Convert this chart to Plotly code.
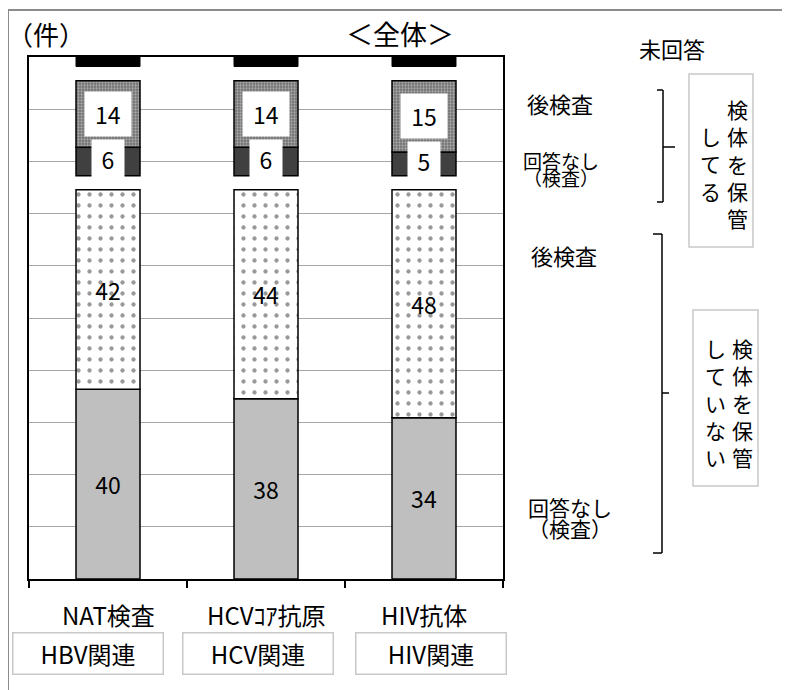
import plotly.graph_objects as go

# categories and group labels
categories = ["NAT検査", "HCVｺｱ抗原", "HIV抗体"]
groups = ["HBV関連", "HCV関連", "HIV関連"]

# 検体を保管していない
nostore_noanswer = [40, 38, 34]   # 回答なし（検査）
nostore_later = [42, 44, 48]      # 後検査
# 検体を保管している
store_noanswer = [6, 6, 5]        # 回答なし（検査）
store_later = [14, 14, 15]        # 後検査
unanswered = [2, 2, 2]            # 未回答

GAP = 3       # blank space left between the blocks of the stack
Y_MAX = 110
Y_STEP = 11

FONT = "Noto Sans CJK JP"
OFF = 8                          # page body margin
W, H = 790 - OFF, 690 - OFF
L, R, T, B = 29, 503, 57, 579    # plot area in screen pixels


def px(x):
    return (x - L) / (R - L)


def py(y):
    return (B - y) / (B - T)


# stack bases
base_nl = nostore_noanswer
base_sn = [a + b + GAP for a, b in zip(nostore_noanswer, nostore_later)]
base_sl = [a + b for a, b in zip(base_sn, store_noanswer)]
base_un = [a + b + GAP for a, b in zip(base_sl, store_later)]

outline = dict(color="black", width=1.5)
BAR_W = 0.405

fig = go.Figure()

fig.add_trace(go.Bar(
    x=categories, y=nostore_noanswer, base=[0, 0, 0], width=BAR_W,
    marker=dict(color="#bfbfbf", line=outline),
    text=nostore_noanswer, textposition="inside", insidetextanchor="middle",
    textangle=0, textfont=dict(size=23, color="black", family=FONT),
    name="回答なし（検査）"
))
fig.add_trace(go.Bar(
    x=categories, y=nostore_later, base=base_nl, width=BAR_W,
    marker=dict(color="white", line=outline,
                pattern=dict(shape=".", fgcolor="#333333", bgcolor="white",
                             size=11, solidity=0.12)),
    text=nostore_later, textposition="inside", insidetextanchor="middle",
    textangle=0, textfont=dict(size=23, color="black", family=FONT),
    name="後検査"
))
fig.add_trace(go.Bar(
    x=categories, y=store_noanswer, base=base_sn, width=BAR_W,
    marker=dict(color="#404040", line=outline),
    name="回答なし（検査）・保管"
))
fig.add_trace(go.Bar(
    x=categories, y=store_later, base=base_sl, width=BAR_W,
    marker=dict(color="#8c8c8c", line=outline,
                pattern=dict(shape=".", fgcolor="#e0e0e0", bgcolor="#707070",
                             size=3, solidity=0.45)),
    name="後検査・保管"
))
fig.add_trace(go.Bar(
    x=categories, y=unanswered, base=base_un, width=BAR_W,
    marker=dict(color="black", line=dict(color="black", width=1)),
    name="未回答"
))

annotations = []

# white-boxed labels for the upper block
for cat, b, v in zip(categories, base_sl, store_later):
    annotations.append(dict(
        x=cat, y=b + v / 2, xref="x", yref="y", text=str(v), showarrow=False,
        font=dict(size=23, color="black", family=FONT),
        bgcolor="white", width=44, height=42
    ))
for cat, b, v in zip(categories, base_sn, store_noanswer):
    annotations.append(dict(
        x=cat, y=b + v / 2, xref="x", yref="y", text=str(v), showarrow=False,
        font=dict(size=23, color="black", family=FONT),
        bgcolor="white", width=30, height=35, yshift=3
    ))

# category labels and group boxes
for cat in categories:
    annotations.append(dict(
        x=cat, y=py(614), xref="x", yref="paper", text=cat, showarrow=False,
        font=dict(size=24, color="black", family=FONT),
        xanchor="center", yanchor="middle"
    ))
for i, (grp, shift) in enumerate(zip(groups, [-20, -8, 7])):
    annotations.append(dict(
        x=categories[i], y=py(653), xref="x", yref="paper",
        text=grp, showarrow=False, xshift=shift,
        xanchor="center", yanchor="middle",
        font=dict(size=24, color="black", family=FONT),
        width=147, height=38, bordercolor="#c8c8c8", borderwidth=1.5,
        bgcolor="white"
    ))


def txt(text, x, y, size, xanchor="center"):
    annotations.append(dict(
        x=px(x), y=py(y), xref="paper", yref="paper", text=text,
        showarrow=False, xanchor=xanchor, yanchor="middle",
        font=dict(size=size, color="black", family=FONT)
    ))


# titles
txt("（件）", 46, 33, 26)
txt("＜全体＞", 400, 33, 27)

# right side legend texts
txt("未回答", 672, 48, 22)
txt("後検査", 560, 103, 22)
txt("回答なし", 521, 160, 19, "left")
txt("（検査）", 521, 178, 19, "left")
txt("後検査", 564, 255, 22)
txt("回答なし", 526, 507, 21, "left")
txt("（検査）", 526, 528, 21, "left")

# vertical texts in boxes
txt("<br>".join("検体を保管"), 737, 163, 21)
txt("<br>".join("してる"), 710, 163, 21)
txt("<br>".join("検体を保管"), 742, 402, 21)
txt("<br>".join("していない"), 715, 402, 21)

shapes = []


def line(x0, y0, x1, y1, color="black", width=1.5):
    shapes.append(dict(type="line", xref="paper", yref="paper",
                       x0=px(x0), y0=py(y0), x1=px(x1), y1=py(y1),
                       line=dict(color=color, width=width)))


def rect(x0, y0, x1, y1, color, width):
    shapes.append(dict(type="rect", xref="paper", yref="paper",
                       x0=px(x0), y0=py(y0), x1=px(x1), y1=py(y1),
                       line=dict(color=color, width=width)))


# brackets
line(657, 90, 663, 90)
line(663, 90, 663, 202)
line(657, 202, 663, 202)
line(663, 147, 675, 147)

line(653, 234, 662, 234)
line(662, 234, 662, 553)
line(653, 553, 662, 553)
line(662, 393, 669, 393)

# boxes around vertical texts
rect(689, 74, 753, 247, "#c8c8c8", 1.5)
rect(693, 310, 758, 486, "#c8c8c8", 1.5)

# outer frame
rect(8, 10, 800, 700, "#8c8c8c", 2)

fig.update_layout(
    width=W, height=H,
    margin=dict(l=L - OFF, r=W - (R - OFF), t=T - OFF, b=H - (B - OFF)),
    barmode="overlay",
    showlegend=False,
    plot_bgcolor="white",
    paper_bgcolor="white",
    font=dict(family=FONT, color="black"),
    annotations=annotations,
    shapes=shapes,
    xaxis=dict(
        type="category", showticklabels=False, range=[-0.5, 2.5],
        tickson="boundaries", ticks="outside", ticklen=7,
        tickcolor="black", tickwidth=1.5,
        showline=True, linecolor="black", linewidth=1.5, mirror=True,
        showgrid=False
    ),
    yaxis=dict(
        range=[0, Y_MAX], dtick=Y_STEP, tick0=0,
        showticklabels=False, ticks="",
        showgrid=True, gridcolor="#a6a6a6", gridwidth=1.3,
        showline=True, linecolor="black", linewidth=1.5, mirror=True,
        zeroline=False
    ),
)

fig.write_html("out.html")
